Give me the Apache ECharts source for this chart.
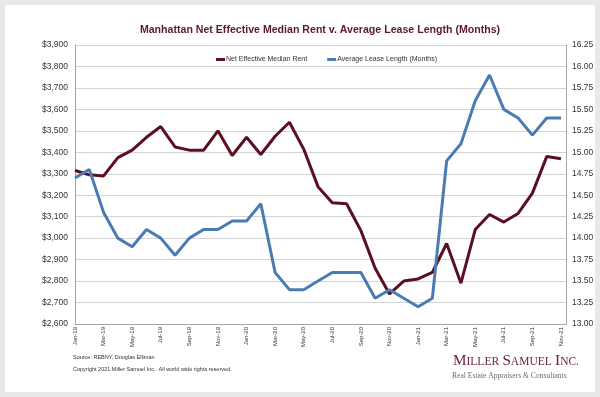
<!DOCTYPE html>
<html>
<head>
<meta charset="utf-8">
<script src="https://cdn.jsdelivr.net/npm/echarts@6/dist/echarts.min.js"></script>
<style>
  html, body { margin: 0; padding: 0; background: #e9e9e9; }
  #chart { width: 600px; height: 397px; }
</style>
</head>
<body>
<div id="chart"></div>
<script>
const months = ['Jan-19', 'Feb-19', 'Mar-19', 'Apr-19', 'May-19', 'Jun-19', 'Jul-19', 'Aug-19', 'Sep-19', 'Oct-19', 'Nov-19', 'Dec-19',
    'Jan-20', 'Feb-20', 'Mar-20', 'Apr-20', 'May-20', 'Jun-20', 'Jul-20', 'Aug-20', 'Sep-20', 'Oct-20', 'Nov-20', 'Dec-20',
    'Jan-21', 'Feb-21', 'Mar-21', 'Apr-21', 'May-21', 'Jun-21', 'Jul-21', 'Aug-21', 'Sep-21', 'Oct-21', 'Nov-21'];

// net effective median rent ($), left axis
const rent = [3315, 3295, 3290, 3375, 3410, 3470, 3520, 3425, 3410, 3410, 3500, 3385,
    3470, 3390, 3475, 3540, 3415, 3240, 3165, 3160, 3035, 2860, 2740, 2800,
    2810, 2840, 2975, 2790, 3040, 3110, 3075, 3115, 3210, 3380, 3370];

// average lease length (months), right axis
const lease = [14.70, 14.80, 14.30, 14.00, 13.90, 14.10, 14.00, 13.80, 14.00, 14.10, 14.10, 14.20,
    14.20, 14.40, 13.60, 13.40, 13.40, 13.50, 13.60, 13.60, 13.60, 13.30, 13.40, 13.30,
    13.20, 13.30, 14.90, 15.10, 15.60, 15.90, 15.50, 15.40, 15.20, 15.40, 15.40];

const seriesNames = ['Net Effective Median Rent', 'Average Lease Length (Months)'];

let chart = echarts.init(document.getElementById('chart'));

let option = {
    backgroundColor: '#e9e9e9',
    animation: false,
    title: {
        text: 'Manhattan Net Effective Median Rent v. Average Lease Length (Months)',
        left: 315,
        top: 20,
        textAlign: 'center',
        textStyle: {
            fontFamily: '"Liberation Sans", Arial',
            fontSize: 10.6,
            fontWeight: 'bold',
            color: '#5a1a2a'
        }
    },
    legend: {
        left: 211,
        top: 51,
        icon: 'rect',
        itemWidth: 9,
        itemHeight: 3,
        itemGap: 20,
        textStyle: {
            fontFamily: '"Liberation Sans", Arial',
            fontSize: 7,
            color: '#333',
            padding: [0, 0, 0, -4]
        },
        data: seriesNames
    },
    grid: {
        left: 75,
        right: 34,
        top: 45,
        bottom: 73
    },
    xAxis: {
        type: 'value',
        min: 0,
        max: 34.35,
        interval: 2,
        axisLine: {
            show: true,
            lineStyle: {color: '#a6a6a6'}
        },
        axisTick: {show: false},
        splitLine: {show: false},
        axisLabel: {
            rotate: 90,
            margin: 3,
            fontSize: 6,
            color: '#333',
            fontFamily: '"Liberation Sans", Arial',
            formatter: v => Number.isInteger(v) ? months[v] : ''
        }
    },
    yAxis: [
        {
            type: 'value',
            min: 2600,
            max: 3900,
            interval: 100,
            axisLine: {
                show: true,
                lineStyle: {color: '#a6a6a6'}
            },
            axisTick: {show: false},
            splitLine: {
                lineStyle: {color: '#d4d4d4'}
            },
            axisLabel: {
                margin: 7,
                fontSize: 8.5,
                color: '#333',
                fontFamily: '"Liberation Sans", Arial',
                formatter: v => '$' + v.toLocaleString('en-US')
            }
        },
        {
            type: 'value',
            min: 13,
            max: 16.25,
            interval: 0.25,
            axisLine: {
                show: true,
                lineStyle: {color: '#a6a6a6'}
            },
            axisTick: {show: false},
            splitLine: {show: false},
            axisLabel: {
                margin: 6,
                fontSize: 8.5,
                color: '#333',
                fontFamily: '"Liberation Sans", Arial',
                formatter: v => v.toFixed(2)
            }
        }
    ],
    series: [
        {
            name: seriesNames[0],
            type: 'line',
            yAxisIndex: 0,
            showSymbol: false,
            data: rent.map((v, i) => [i, v]),
            itemStyle: {color: '#5b0f20'},
            lineStyle: {width: 3}
        },
        {
            name: seriesNames[1],
            type: 'line',
            yAxisIndex: 1,
            showSymbol: false,
            data: lease.map((v, i) => [i, v]),
            itemStyle: {color: '#4a7cb3'},
            lineStyle: {width: 3}
        }
    ],
    graphic: [
        {
            type: 'rect',
            z: -10,
            shape: {x: 5, y: 5, width: 590, height: 387},
            style: {fill: '#fff'}
        },
        {
            type: 'text',
            left: 73,
            top: 354,
            style: {
                text: 'Source: REBNY, Douglas Elliman',
                font: '5.5px "Liberation Sans", Arial',
                fill: '#333'
            }
        },
        {
            type: 'text',
            left: 73,
            top: 366,
            style: {
                text: 'Copyright 2021 Miller Samuel Inc.  All world wide rights reserved.',
                font: '5.5px "Liberation Sans", Arial',
                fill: '#333'
            }
        },
        {
            type: 'text',
            left: 453,
            top: 354,
            style: {
                text: '{a|M}{b|ILLER} {a|S}{b|AMUEL} {a|I}{b|NC.}',
                rich: {
                    a: {fontFamily: '"Liberation Serif", serif', fontSize: 15.2, fill: '#6b1e2e', color: '#6b1e2e'},
                    b: {fontFamily: '"Liberation Serif", serif', fontSize: 11.5, fill: '#6b1e2e', color: '#6b1e2e'}
                }
            }
        },
        {
            type: 'text',
            left: 452,
            top: 372,
            style: {
                text: 'Real Estate Appraisers & Consultants',
                font: '7.6px "Liberation Serif", serif',
                fill: '#6d6d6d'
            }
        }
    ]
};

chart.setOption(option);
</script>
</body>
</html>
